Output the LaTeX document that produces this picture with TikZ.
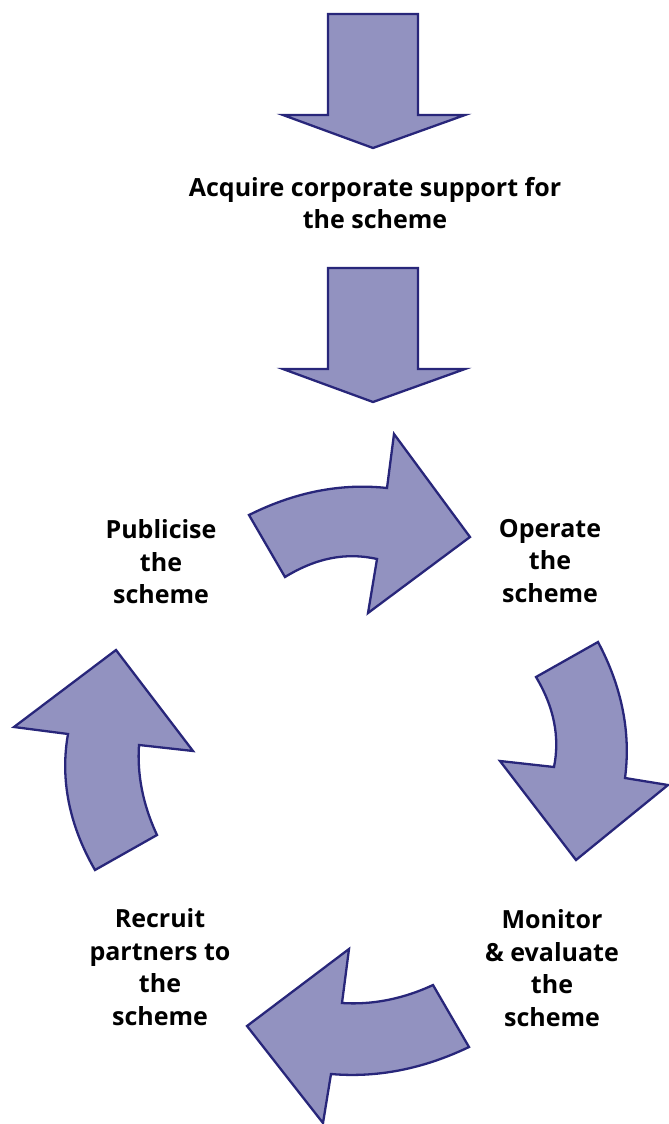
\documentclass[tikz,border=0pt]{standalone}
\usepackage{fontspec}
\setmainfont{Open Sans}
\usepackage{tikz}
\usetikzlibrary{positioning}
\definecolor{arrowfill}{RGB}{146,146,192}
\definecolor{arrowline}{RGB}{40,38,122}
\tikzset{x=1pt, y=-1pt, % one unit is one pixel of the layout, y runs down
blockarrow/.style={ % Sets the look of every big arrow
fill=arrowfill,
draw=arrowline,
line width=2.3pt,
line join=miter},
steptext/.style={ % Sets the look of the step labels
align=center,
inner sep=0pt,
font=\bfseries\fontsize{25}{32.5}\selectfont}}

\begin{document}
\begin{tikzpicture}
    \useasboundingbox (0,0) rectangle (669,1124);

    % straight arrows into the cycle
    \draw[blockarrow] (328,14) -- (418,14) -- (418,115) -- (465,115) -- (373,148) -- (283,115) -- (328,115) -- cycle;
    \draw[blockarrow] (328,268) -- (418,268) -- (418,369) -- (465,369) -- (373,402) -- (283,369) -- (328,369) -- cycle;

    % curved arrows of the cycle
    \draw[blockarrow] (249,515) .. controls (295,492) and (341,483) .. (387,488) -- (394,434) -- (470,537) -- (368,613) -- (377,559) .. controls (346,552) and (316,558) .. (285,577) -- cycle;
    \draw[blockarrow] (598,642) .. controls (622,687) and (631,733) .. (625,778) -- (668,785) -- (576,860) -- (500,761) -- (554,767) .. controls (560,737) and (554,707) .. (536,677) -- cycle;
    \draw[blockarrow] (469,1047) .. controls (423,1069) and (377,1078) .. (331,1074) -- (323,1123) -- (247,1026) -- (349,949) -- (342,1003) .. controls (372,1005) and (403,999) .. (433,985) -- cycle;
    \draw[blockarrow] (95,870) .. controls (69,825) and (60,779) .. (68,734) -- (14,727) -- (116,650) -- (193,751) -- (139,745) .. controls (137,775) and (143,805) .. (157,835) -- cycle;

    \node[steptext] (acquire) at (375,203) {Acquire corporate support for\\the scheme};
    \node[steptext] (publicise) at (161,562) {Publicise\\the\\scheme};
    \node[steptext] (operate) at (550,561) {Operate\\the\\scheme};
    \node[steptext] (monitor) at (552,968) {Monitor\\\& evaluate\\the\\scheme};
    \node[steptext] (recruit) at (160,967) {Recruit\\partners to\\the\\scheme};

\end{tikzpicture}
\end{document}
